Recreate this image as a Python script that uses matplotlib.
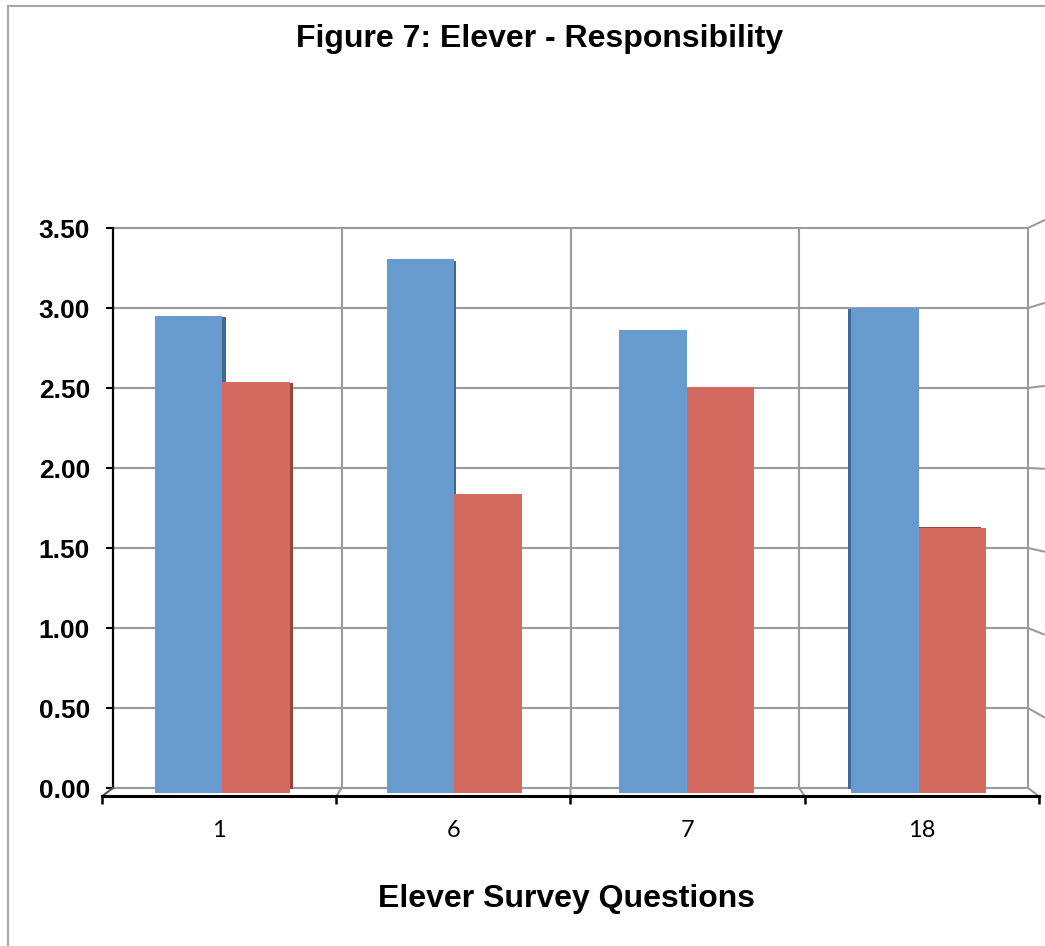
import matplotlib
matplotlib.use("Agg")
import matplotlib.pyplot as plt
from matplotlib.patches import ConnectionPatch
from matplotlib.lines import Line2D
import numpy as np

# ---- data -------------------------------------------------------------
questions = ["1", "6", "7", "18"]
series_blue = [2.94, 3.29, 2.85, 2.99]
series_red = [2.53, 1.84, 2.50, 1.63]
y_ticks = [0.0, 0.5, 1.0, 1.5, 2.0, 2.5, 3.0, 3.5]
y_tick_labels = [f"{v:.2f}" for v in y_ticks]

chart_title = "Figure 7: Elever - Responsibility"
x_title = "Elever Survey Questions"

# ---- styling ----------------------------------------------------------
BLUE, BLUE_SIDE = "#679bd0", "#3e6896"
RED, RED_SIDE = "#d4695f", "#96443e"
GRID = "#9b9b9b"
BOLD_FONT = "Liberation Sans"
TICK_FONT = "Lato"

W, H, DPI = 1045, 946, 100
fig = plt.figure(figsize=(W / DPI, H / DPI), dpi=DPI, facecolor="white")

# back wall of the 3-D box (pixels: left, top, right, bottom) and the
# vanishing point used to place the deeper/closer planes
WALL = (113, 228, 1028, 788)
VP = (572, 446)
n = len(questions)


def plane(k, zorder):
    """Axes for a plane at relative depth k (1 = back wall)."""
    l = VP[0] + (WALL[0] - VP[0]) * k
    t = VP[1] + (WALL[1] - VP[1]) * k
    r = VP[0] + (WALL[2] - VP[0]) * k
    b = VP[1] + (WALL[3] - VP[1]) * k
    ax = fig.add_axes([l / W, 1 - b / H, (r - l) / W, (b - t) / H], zorder=zorder)
    ax.set_xlim(-0.5, n - 0.5)
    ax.set_ylim(0, 3.5)
    ax.patch.set_visible(False)
    for s in ax.spines.values():
        s.set_visible(False)
    ax.set_xticks([])
    ax.set_yticks([])
    return ax


ax_stub = plane(1.036, -1)
ax_back = plane(1.0, 0)
ax_side = plane(1.0036, 1)
ax_bars = plane(1.0146, 2)
ax_front = plane(1.024, 3)

# ---- back wall --------------------------------------------------------
edges = np.arange(n + 1) - 0.5
ax_back.hlines(y_ticks, edges[0], edges[-1], colors=GRID, lw=1.5, clip_on=False)
ax_back.vlines(edges[1:], 0, y_ticks[-1], colors=GRID, lw=1.5, clip_on=False)

ax_back.spines["left"].set_visible(True)
ax_back.spines["left"].set_color("black")
ax_back.spines["left"].set_linewidth(1.6)
ax_back.set_yticks(y_ticks, y_tick_labels)
ax_back.tick_params(axis="y", length=5, width=1.5, color="black", pad=11.5)
for lab in ax_back.get_yticklabels():
    lab.set_fontfamily(BOLD_FONT)
    lab.set_fontweight("bold")
    lab.set_fontsize(19)

# floor depth lines (back wall -> front edge)
for i, xe in enumerate(edges):
    con = ConnectionPatch(xyA=(xe, 0), coordsA=ax_back.transData,
                          xyB=(xe, 0), coordsB=ax_front.transData,
                          color="#555555" if i == 0 else GRID, lw=1.5)
    con.set_zorder(0.5)
    fig.add_artist(con)

# side wall stubs on the right
for yv in y_ticks[1:]:
    con = ConnectionPatch(xyA=(edges[-1], yv), coordsA=ax_back.transData,
                          xyB=(edges[-1], yv), coordsB=ax_stub.transData,
                          color=GRID, lw=1.5)
    con.set_zorder(0.5)
    fig.add_artist(con)

# ---- bars ---------------------------------------------------------------
x = np.arange(n)
w = 0.29
ax_side.bar(x - w / 2, series_blue, w, color=BLUE_SIDE, lw=0)
ax_side.bar(x + w / 2, series_red, w, color=RED_SIDE, lw=0)
ax_bars.bar(x - w / 2, series_blue, w, color=BLUE, lw=0)
ax_bars.bar(x + w / 2, series_red, w, color=RED, lw=0)

# ---- front edge with category labels ----------------------------------
ax_front.spines["bottom"].set_visible(True)
ax_front.spines["bottom"].set_color("black")
ax_front.spines["bottom"].set_linewidth(2.2)
ax_front.set_xticks(x, questions)
ax_front.set_xticks(edges, minor=True)
ax_front.tick_params(axis="x", which="major", length=0, pad=17)
ax_front.tick_params(axis="x", which="minor", length=6, width=1.8, color="black")
for lab in ax_front.get_xticklabels():
    lab.set_fontfamily(TICK_FONT)
    lab.set_fontsize(17)

# ---- titles -------------------------------------------------------------
fig.text(540 / W, 1 - 47 / H, chart_title, ha="center", va="baseline",
         fontsize=23, fontweight="bold", family=BOLD_FONT)
fig.text(566 / W, 1 - 907 / H, x_title, ha="center", va="baseline",
         fontsize=23, fontweight="bold", family=BOLD_FONT)

# chart area border
fig.add_artist(Line2D([8 / W, 8 / W], [0, 1 - 6 / H], transform=fig.transFigure,
                      color="#a8a8a8", lw=1.5))
fig.add_artist(Line2D([8 / W, 1], [1 - 6 / H, 1 - 6 / H], transform=fig.transFigure,
                      color="#a8a8a8", lw=1.5))

fig.savefig("out.png", dpi=DPI, facecolor="white")
